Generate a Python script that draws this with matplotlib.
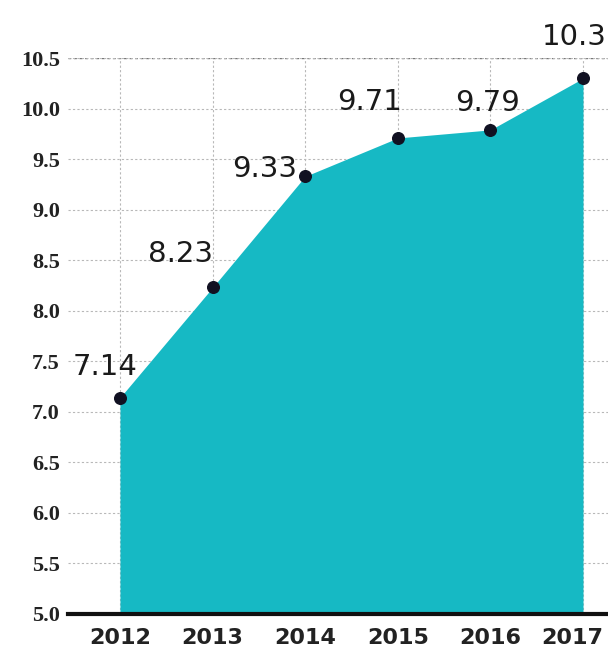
import matplotlib
matplotlib.use('Agg')
import matplotlib.pyplot as plt
import matplotlib.transforms as mtransforms

# values
years = [2012, 2013, 2014, 2015, 2016, 2017]
values = [7.14, 8.23, 9.33, 9.71, 9.79, 10.3]
labels = ['7.14', '8.23', '9.33', '9.71', '9.79', '10.3']
yticks = [5.0, 5.5, 6.0, 6.5, 7.0, 7.5, 8.0, 8.5, 9.0, 9.5, 10.0, 10.5]

teal = '#16b9c4'

fig = plt.figure(figsize=(6.08, 6.68), dpi=100)
ax = fig.add_axes([0.112, 0.081, 0.888, 0.832])

ax.fill_between(years, 5.0, values, color=teal, zorder=2, linewidth=0)
ax.scatter(years, values, s=70, color='#111122', zorder=4, clip_on=False)

# label offsets (points) to sit the numbers like the reference
offsets = [(-11, 12), (-23, 14), (-29, -5), (-20, 16), (-2, 9), (-6, 20)]
for x, y, t, off in zip(years, values, labels, offsets):
    ax.annotate(t, (x, y), xytext=off, textcoords='offset points',
                ha='center', va='bottom', fontsize=21, family='DejaVu Sans',
                color='#1a1a1a', zorder=5, annotation_clip=False)

ax.set_xlim(2011.44, 2017.27)
ax.set_ylim(5.0, 10.5)
ax.set_yticks(yticks)
ax.set_yticklabels(['%.1f' % v for v in yticks], fontsize=16, fontweight='bold',
                   family=['Liberation Serif', 'DejaVu Serif'], color='#222222')
ax.set_xticks(years)
ax.set_xticklabels([str(y) for y in years], fontsize=16, fontweight='bold',
                   family='DejaVu Sans', color='#222222')
ax.tick_params(axis='both', length=0)
ax.tick_params(axis='y', pad=6)
ax.tick_params(axis='x', pad=10)

# nudge the last year label in so it stays inside the picture
last = ax.get_xticklabels()[-1]
last.set_transform(last.get_transform() +
                   mtransforms.ScaledTranslation(-8 / 72, 0, fig.dpi_scale_trans))

ax.grid(True, color='#b8b8b8', linestyle=(0, (2, 2)), linewidth=0.8, zorder=1)
ax.axhline(10.5, color='#777777', linestyle=(0, (2, 2)), linewidth=1.0, zorder=1)

for s in ['top', 'right', 'left']:
    ax.spines[s].set_visible(False)
ax.spines['bottom'].set_linewidth(3)
ax.spines['bottom'].set_color('#111111')
ax.spines['bottom'].set_zorder(3)

fig.savefig('out.png', dpi=100)
